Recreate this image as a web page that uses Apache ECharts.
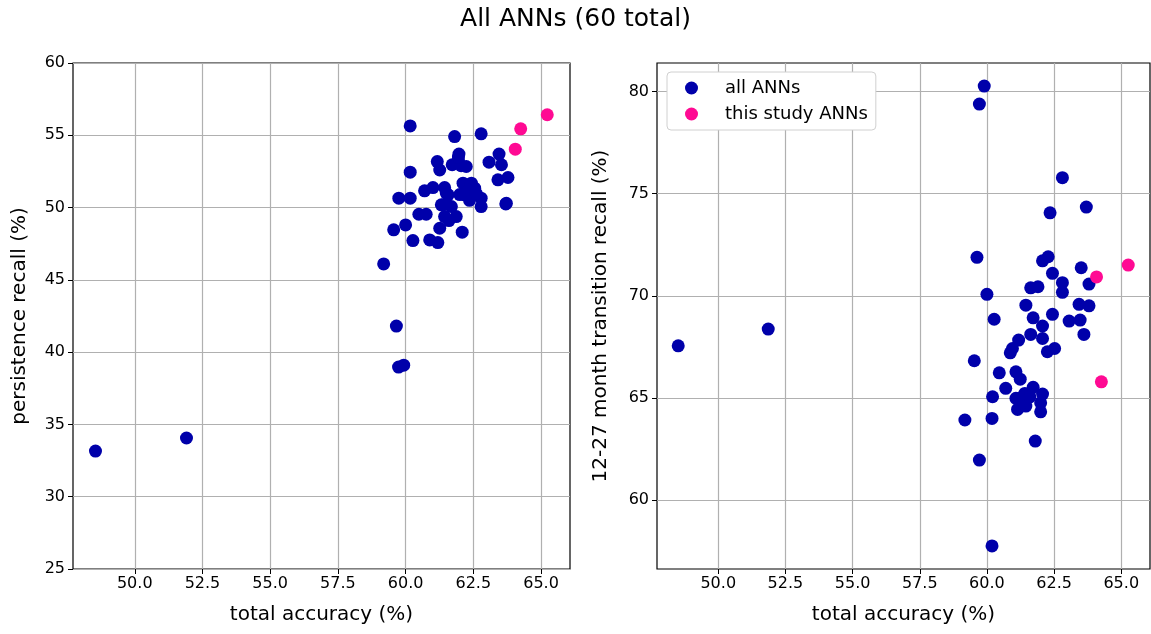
<!DOCTYPE html>
<html>
<head>
<meta charset="utf-8">
<script src="https://cdn.jsdelivr.net/npm/echarts@6/dist/echarts.min.js"></script>
<style>
  html, body { margin: 0; padding: 0; background: #fff; }
  #chart { width: 1151px; height: 634px; }
</style>
</head>
<body>
<div id="chart"></div>
<script>
// x ticks shared by both panels
const accTicks = [50, 52.5, 55, 57.5, 60, 62.5, 65]
const persistTicks = [25, 30, 35, 40, 45, 50, 55, 60]
const transTicks = [60, 65, 70, 75, 80]

// left panel: [total accuracy, persistence recall]
const allPersistence = [
  [48.55, 33.16], [51.91, 34.06], [59.19, 46.1], [59.66, 41.8], [59.74, 38.97], [59.93, 39.1],
  [60.17, 55.65], [61.81, 54.91], [62.79, 55.1], [61.97, 53.7], [61.17, 53.18], [61.26, 52.6],
  [61.72, 52.96], [62.24, 52.84], [60.17, 52.45], [63.08, 53.14], [63.45, 53.7], [63.54, 52.96],
  [63.41, 51.92], [63.78, 52.08], [63.72, 50.3], [62.12, 51.69], [62.43, 51.69], [62.55, 51.34],
  [62.18, 50.88], [62.36, 50.5], [62.79, 50.65], [62.79, 50.07], [60.7, 51.16], [61.01, 51.38],
  [61.44, 51.38], [61.57, 50.88], [61.32, 50.19], [61.69, 50.07], [59.75, 50.65], [60.17, 50.65],
  [60.49, 49.54], [60.76, 49.54], [61.44, 49.38], [61.87, 49.38], [61.26, 48.57], [62.09, 48.3],
  [59.56, 48.46], [60.0, 48.8], [60.27, 47.72], [60.89, 47.76], [61.19, 47.58], [61.95, 53.3],
  [62.05, 52.9], [61.5, 51.0], [62.3, 51.2], [61.4, 50.2], [62.0, 50.9], [61.6, 49.1],
  [62.6, 51.0], [63.7, 50.25], [61.95, 53.5]
]
const studyPersistence = [[65.23, 56.42], [64.25, 55.45], [64.05, 54.04]]

// right panel: [total accuracy, 12-27 month transition recall]
const allTransition = [
  [48.51, 67.55], [51.86, 68.37], [59.9, 80.26], [59.72, 79.38], [62.81, 75.78], [63.7, 74.34],
  [62.35, 74.06], [59.63, 71.88], [62.28, 71.91], [62.07, 71.71], [62.44, 71.1], [63.51, 71.37],
  [63.8, 70.57], [62.81, 70.64], [62.81, 70.17], [61.63, 70.39], [61.9, 70.44], [60.0, 70.07],
  [61.45, 69.54], [63.43, 69.58], [63.8, 69.51], [62.44, 69.09], [60.27, 68.85], [61.72, 68.92],
  [62.07, 68.52], [63.06, 68.76], [63.47, 68.81], [61.63, 68.11], [62.07, 67.91], [63.61, 68.11],
  [61.18, 67.83], [60.95, 67.42], [60.87, 67.21], [62.25, 67.26], [62.52, 67.42], [59.53, 66.82],
  [60.46, 66.23], [61.08, 66.28], [61.24, 65.92], [60.7, 65.47], [60.21, 65.06], [61.08, 64.98],
  [61.41, 65.22], [61.72, 65.52], [62.07, 65.19], [62.0, 64.76], [62.0, 64.32], [61.14, 64.44],
  [61.45, 64.6], [59.18, 63.92], [60.19, 64.0], [61.8, 62.89], [59.72, 61.96], [60.19, 57.76],
  [61.25, 65.0], [61.35, 64.8], [61.6, 65.05]
]
const studyTransition = [[65.26, 71.5], [64.08, 70.92], [64.26, 65.79]]

const blue = '#0000aa'
const pink = '#ff0a93'
const font = 'DejaVu Sans'

const chart = echarts.init(document.getElementById('chart'))

// x axis, same for both panels
function accAxis(gridIndex) {
  return {
    type: 'value',
    gridIndex,
    min: 47.72,
    max: 66.07,
    name: 'total accuracy (%)',
    nameLocation: 'middle',
    nameGap: 36,
    nameTextStyle: { fontSize: 20, color: '#000', fontFamily: font },
    axisLine: { show: false },
    axisTick: { show: true, customValues: accTicks, length: 5, lineStyle: { color: '#000' } },
    axisLabel: {
      customValues: accTicks,
      color: '#000',
      fontSize: 16,
      fontFamily: font,
      margin: 7,
      formatter: v => v.toFixed(1)
    },
    splitLine: { show: true, lineStyle: { color: '#b0b0b0', width: 1.2 } }
  }
}

function recallAxis(gridIndex, name, min, max, ticks, gap) {
  return {
    type: 'value',
    gridIndex,
    min,
    max,
    name,
    nameLocation: 'middle',
    nameGap: gap,
    nameTextStyle: { fontSize: 20, color: '#000', fontFamily: font },
    axisLine: { show: false },
    axisTick: { show: true, customValues: ticks, length: 5, lineStyle: { color: '#000' } },
    axisLabel: { customValues: ticks, color: '#000', fontSize: 16, fontFamily: font, margin: 8 },
    splitLine: { show: true, lineStyle: { color: '#b0b0b0', width: 1.2 } }
  }
}

const dot = { symbol: 'circle', symbolSize: 13 }

const option = {
  backgroundColor: '#fff',
  animation: false,
  title: {
    text: 'All ANNs (60 total)',
    left: 'center',
    top: 2,
    textStyle: { fontSize: 25, fontWeight: 'normal', color: '#000', fontFamily: font }
  },
  legend: {
    data: ['all ANNs', 'this study ANNs'],
    orient: 'vertical',
    left: 667,
    top: 72,
    icon: 'circle',
    itemWidth: 13,
    itemHeight: 13,
    itemGap: 8,
    padding: [7, 8, 7, 18],
    backgroundColor: '#fff',
    borderColor: '#d0d0d0',
    borderWidth: 1,
    borderRadius: 4,
    textStyle: { fontSize: 18, color: '#000', fontFamily: font, padding: [0, 0, 0, 22] }
  },
  grid: [
    { left: 73, top: 63, width: 497, height: 506, show: true, borderColor: '#000', borderWidth: 1.2 },
    { left: 657, top: 63, width: 493, height: 506, show: true, borderColor: '#000', borderWidth: 1.2 }
  ],
  xAxis: [accAxis(0), accAxis(1)],
  yAxis: [
    recallAxis(0, 'persistence recall (%)', 25, 60, persistTicks, 43),
    recallAxis(1, '12-27 month transition recall (%)', 56.63, 81.39, transTicks, 46)
  ],
  series: [
    { name: 'all ANNs', type: 'scatter', xAxisIndex: 0, yAxisIndex: 0, data: allPersistence, itemStyle: { color: blue, opacity: 1 }, ...dot },
    { name: 'this study ANNs', type: 'scatter', xAxisIndex: 0, yAxisIndex: 0, data: studyPersistence, itemStyle: { color: pink, opacity: 1 }, ...dot },
    { name: 'all ANNs', type: 'scatter', xAxisIndex: 1, yAxisIndex: 1, data: allTransition, itemStyle: { color: blue, opacity: 1 }, ...dot },
    { name: 'this study ANNs', type: 'scatter', xAxisIndex: 1, yAxisIndex: 1, data: studyTransition, itemStyle: { color: pink, opacity: 1 }, ...dot }
  ]
}

chart.setOption(option)
</script>
</body>
</html>
